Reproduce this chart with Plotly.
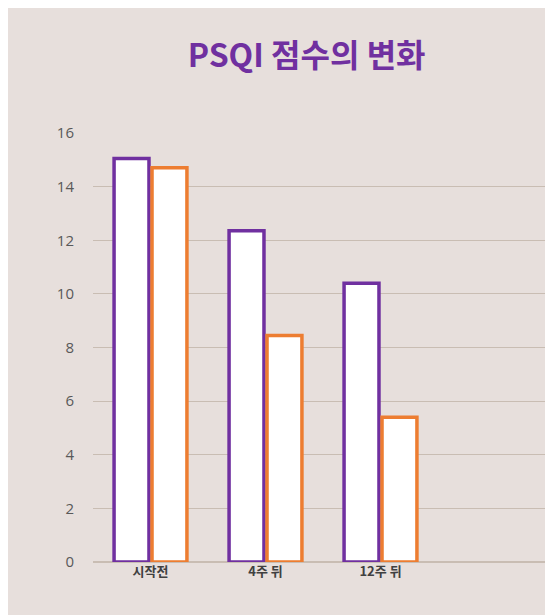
import plotly.graph_objects as go

categories = ["시작전", "4주 뒤", "12주 뒤", " "]
series_a = [15.05, 12.35, 10.4, None]
series_b = [14.7, 8.45, 5.4, None]
y_ticks = [0, 2, 4, 6, 8, 10, 12, 14, 16]

fig = go.Figure()
fig.add_trace(go.Bar(x=categories, y=series_a, marker=dict(color="white", line=dict(color="#7030a0", width=3.5))))
fig.add_trace(go.Bar(x=categories, y=series_b, marker=dict(color="white", line=dict(color="#ed7d31", width=3.5))))

fig.update_layout(
    width=553, height=615,
    paper_bgcolor="#e7dfdc", plot_bgcolor="#e7dfdc",
    showlegend=False,
    barmode="group", bargap=0.34, bargroupgap=0.08,
    margin=dict(l=85, r=8, t=125, b=61),
    title=dict(text="<b>PSQI 점수의 변화</b>", x=0.54, xanchor="center", y=0.922, yanchor="middle",
               font=dict(family="Noto Sans CJK KR", size=32, color="#7030a0")),
    font=dict(family="Noto Sans CJK KR", color="#595959"),
)
fig.update_xaxes(showgrid=False, showline=False, ticks="",
                 tickfont=dict(size=13, color="#404040", weight="bold"))
fig.update_yaxes(range=[0, 16], tickvals=y_ticks, gridcolor="#c9bdb3", gridwidth=1, zeroline=True,
                 zerolinecolor="#c9bdb3", showline=False, tickfont=dict(family="Open Sans", size=15, color="#595959"),
                 ticklabelstandoff=18)

fig.write_html("out.html")
